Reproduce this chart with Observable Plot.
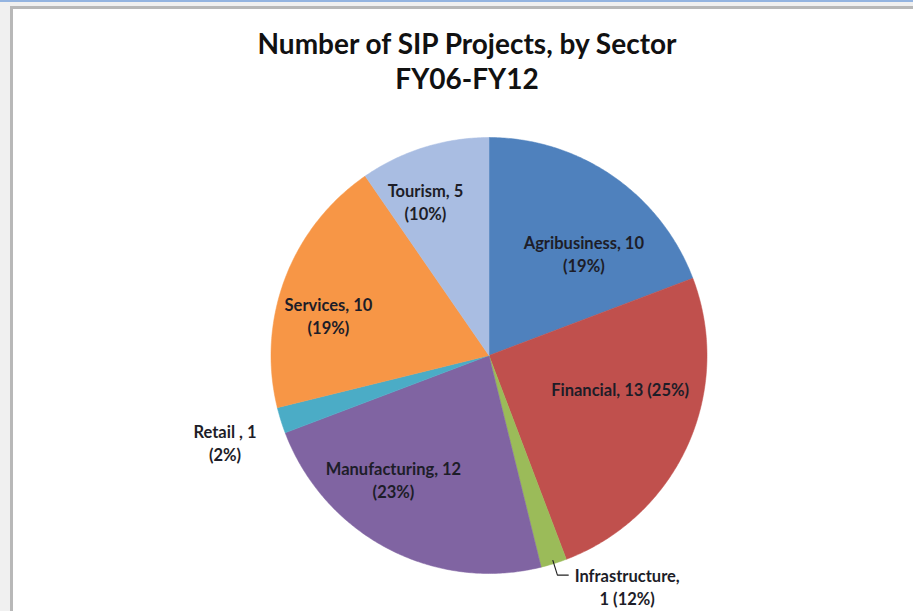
<!DOCTYPE html>
<html>
<head>
<meta charset="utf-8">
<script src="https://cdn.jsdelivr.net/npm/d3@7"></script>
<script src="https://cdn.jsdelivr.net/npm/@observablehq/plot@0.6"></script>
<style>
  html, body { margin: 0; padding: 0; background: #f0f0f0; }
  #wrap { position: relative; width: 913px; height: 611px; overflow: hidden; background: #f0f0f0; }
  #topbar { position: absolute; left: 0; top: 0; width: 913px; height: 2px; background: #94b4e0; }
  #panel { position: absolute; left: 10px; top: 6px; width: 910px; height: 620px; background: #fff;
           border-left: 3px solid #b8b8b8; border-top: 3px solid #b8b8b8; box-sizing: border-box; }
  #title { position: absolute; left: 0; top: 26px; width: 934px; text-align: center;
           font-family: Lato, "Open Sans", sans-serif; font-weight: 700; font-size: 28px; line-height: 35px; color: #111; }
  #chart { position: absolute; left: 0; top: 110px; }
</style>
</head>
<body>
<div id="wrap">
  <div id="topbar"></div>
  <div id="panel"></div>
  <div id="title">Number of SIP Projects, by Sector<br>FY06-FY12</div>
  <div id="chart"></div>
</div>
<script>
const sectors = ["Agribusiness", "Financial", "Infrastructure", "Manufacturing", "Retail", "Services", "Tourism"];
const counts = [10, 13, 1, 12, 1, 10, 5];
const percentLabels = ["19%", "25%", "12%", "23%", "2%", "19%", "10%"];
const labelTexts = [
  "Agribusiness, 10\n(19%)",
  "Financial, 13 (25%)",
  "Infrastructure,\n1 (12%)",
  "Manufacturing, 12\n(23%)",
  "Retail , 1\n(2%)",
  "Services, 10\n(19%)",
  "Tourism, 5\n(10%)"
];
const colors = ["#4f81bd", "#c0504d", "#9bbb59", "#8064a2", "#4bacc6", "#f79646", "#a9bde2"];

// pie geometry (angles clockwise from top)
const arcs = d3.pie().sort(null).value(d => d)(counts);
const polyPts = [];
arcs.forEach((a, i) => {
  polyPts.push({sector: sectors[i], x: 0, y: 0});
  const n = Math.max(4, Math.ceil((a.endAngle - a.startAngle) / 0.01));
  for (let k = 0; k <= n; k++) {
    const t = a.startAngle + (a.endAngle - a.startAngle) * k / n;
    polyPts.push({sector: sectors[i], x: Math.sin(t), y: Math.cos(t)});
  }
  polyPts.push({sector: sectors[i], x: 0, y: 0});
});

// label placement (best-fit style): radius fraction and angular nudge (deg) from slice mid-angle
const labelR = [0.64, 0.62, null, 0.715, 1.275, 0.76, 0.765];
const labelTurn = [8.2, -10.1, 0, 10.1, -0.9, -6.5, -5.1];
const rad = Math.PI / 180;
const sliceLabels = [], leaders = [];
arcs.forEach((a, i) => {
  if (labelR[i] == null) return;
  const m = (a.startAngle + a.endAngle) / 2 + labelTurn[i] * rad;
  sliceLabels.push({text: labelTexts[i], x: labelR[i] * Math.sin(m), y: labelR[i] * Math.cos(m)});
});
// Infrastructure: outside with leader line
{
  const a = arcs[2], m = (a.startAngle + a.endAngle) / 2;
  const p0 = {x: 0.985 * Math.sin(m), y: 0.985 * Math.cos(m)};
  const p1 = {x: 1.055 * Math.sin(m), y: 1.055 * Math.cos(m)};
  const p2 = {x: p1.x + 0.05, y: p1.y};
  leaders.push({k: 0, ...p0}, {k: 1, ...p1}, {k: 2, ...p2});
  sliceLabels.push({text: labelTexts[2], x: p2.x + 0.27, y: p2.y - 0.05});
}

const W = 913, H = 501;
const plot = Plot.plot({
  width: W, height: H,
  marginLeft: 270.5, marginRight: 206.5, marginTop: 27, marginBottom: 38,
  x: {domain: [-1, 1], axis: null},
  y: {domain: [-1, 1], axis: null},
  color: {domain: sectors, range: colors},
  style: {background: "transparent", overflow: "visible"},
  marks: [
    Plot.line(polyPts, {x: "x", y: "y", z: "sector", fill: "sector", stroke: "sector", strokeWidth: 0.5, curve: "linear"}),
    Plot.line(leaders, {x: "x", y: "y", stroke: "#222", strokeWidth: 1.1}),
    Plot.text(sliceLabels, {x: "x", y: "y", text: "text", fontSize: 16.5, fontWeight: 700,
      fontFamily: "Lato, 'Open Sans', sans-serif", fill: "#1d1d28", lineHeight: 1.4, textAnchor: "middle"})
  ]
});
document.getElementById("chart").appendChild(plot);
</script>
</body>
</html>
